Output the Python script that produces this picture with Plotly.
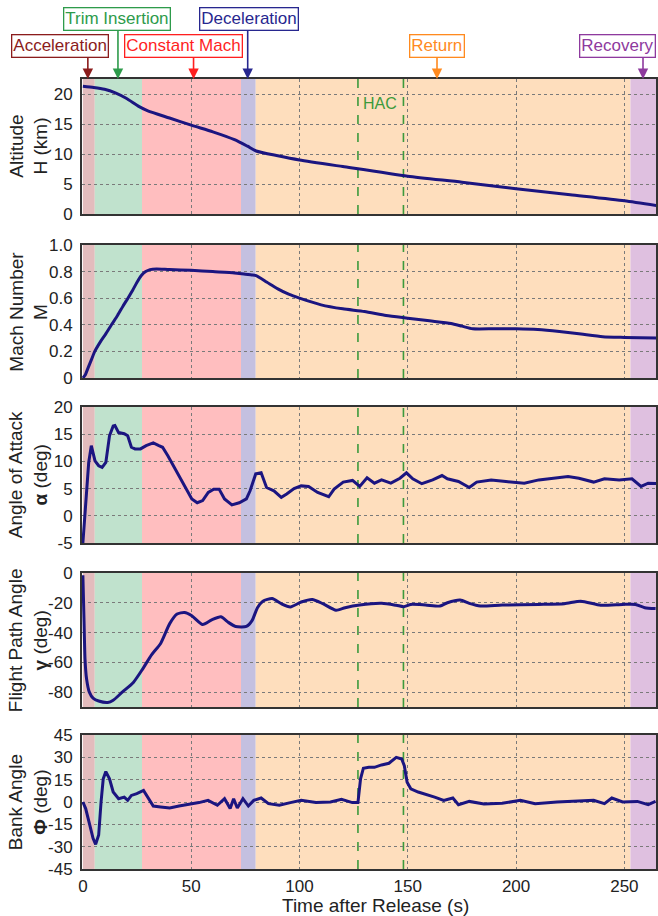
import plotly.graph_objects as go
from plotly.subplots import make_subplots

# ---------------- data ----------------
phase_names = ["Acceleration", "Trim Insertion", "Constant Mach", "Deceleration", "Return", "Recovery"]
phase_start = [0, 5.5, 27.3, 73.0, 79.8, 252.8]
phase_end = [5.5, 27.3, 73.0, 79.8, 252.8, 270]
phase_arrow_t = [2.3, 16.2, 51.1, 76.1, 163.5, 258.6]
hac_t = [127, 148]

t_alt = [0, 5, 10, 15, 20, 26, 30, 40, 50, 60, 70, 76, 80, 90, 100, 120, 150, 175, 200, 225, 250, 265]
altitude = [21.3, 21.1, 20.8, 20.2, 19.3, 17.9, 17.2, 16.0, 14.8, 13.7, 12.4, 11.3, 10.5, 9.7, 9.0, 7.9,
            6.3, 5.3, 4.2, 3.2, 2.2, 1.4]

t_mach = [0, 1, 2.5, 4, 5.5, 8, 10.5, 13.2, 16, 18.5, 20.8, 23, 25, 27, 29, 31, 34, 40, 50, 60, 70, 75,
          78, 80, 85, 90, 95, 100, 110, 120, 130, 140, 150, 160, 170, 175, 180, 190, 200, 210, 220, 230,
          240, 250, 265]
mach = [0, 0.02, 0.08, 0.14, 0.20, 0.27, 0.33, 0.40, 0.47, 0.54, 0.60, 0.66, 0.72, 0.77, 0.80, 0.815,
        0.82, 0.815, 0.81, 0.80, 0.79, 0.78, 0.775, 0.77, 0.72, 0.67, 0.63, 0.60, 0.55, 0.52, 0.50, 0.47,
        0.45, 0.43, 0.41, 0.39, 0.37, 0.37, 0.37, 0.365, 0.35, 0.33, 0.31, 0.305, 0.30]

t_aoa = [0, 1.35, 2.7, 3.9, 4.7, 5.6, 7.3, 8.9, 10.6, 12.3, 14.0, 14.8, 16.5, 19.1, 20.7, 22.4, 24.1, 26.6,
         29.2, 32.5, 35.1, 36.8, 39.3, 41.8, 44.4, 47.7, 50.3, 52.8, 55.3, 57.9, 60.4, 62.9, 65.4, 68.8,
         72.2, 75.5, 77.2, 79.8, 82.3, 84.8, 88.2, 91.6, 94.1, 97.5, 100.8, 104.2, 108.4, 113.5, 116.0,
         120.2, 124.5, 127.8, 131.2, 134.6, 137.9, 142.2, 146.4, 149.4, 152.3, 156.5, 161.5, 165.8, 168.3,
         173.4, 178.4, 181.8, 188.5, 195.3, 203.8, 210.5, 218.9, 224.0, 229.0, 235.8, 240.8, 247.6, 253.5,
         257.7, 261.0, 265.3]
aoa = [-5, 3.1, 9.8, 12.9, 11.3, 10.1, 9.2, 8.9, 9.8, 14.7, 16.5, 16.6, 15.3, 15.1, 14.7, 12.6, 12.3, 12.3,
       12.9, 13.4, 12.9, 12.6, 11.0, 9.2, 7.4, 5.2, 3.1, 2.4, 2.8, 4.3, 4.9, 4.9, 3.1, 2.0,
       2.4, 3.1, 4.6, 7.7, 7.9, 5.2, 4.6, 3.4, 4.0, 5.0, 5.5, 5.4, 4.3, 3.5, 4.9,
       6.2, 6.5, 5.4, 7.0, 6.0, 6.6, 6.0, 6.9, 7.9, 6.8, 5.9, 6.6, 7.4, 6.8,
       6.3, 5.2, 6.2, 6.6, 6.3, 6.0, 6.6, 6.9, 7.2, 6.9, 6.2, 6.8, 6.6, 6.8,
       5.4, 6.0, 5.9]

t_fpa = [0, 0.5, 1.0, 1.7, 3.0, 4.7, 7.3, 11.5, 14.0, 18.2, 23.3, 27.5, 31.7, 35.9, 40.1, 43.5, 46.9, 50.3,
         55.3, 59.5, 63.7, 67.1, 70.5, 75.5, 78.1, 80.6, 83.1, 87.4, 91.6, 95.8, 100.8, 105.9, 110.8, 116.9,
         121.1, 127.8, 138.0, 144.7, 148.1, 151.4, 158.2, 164.9, 168.3, 174.2, 178.4, 183.5, 193.6, 210.5,
         222.3, 229.9, 239.1, 249.2, 255.1, 259.4, 264.4]
fpa = [-1.5, -30, -58, -71, -80, -84, -86, -87, -85.5, -80, -73.5, -64.7, -55, -47.3, -34, -27.6, -26.5, -28.7,
       -34.6, -31.5, -29.4, -33.1, -35.9, -35.9, -32, -23.3, -18.9, -17.1, -20.6, -22.8, -19.5, -17.8, -20.6, -25,
       -23.3, -21.5, -20.4, -21.7, -22.6, -21.1, -21.5, -22.2, -20, -18.2, -20.4, -22.2, -21.5, -21.1,
       -20.6, -18.9, -21.7, -21.1, -21.1, -23.3, -23.9]

t_bank = [0, 1.3, 3.0, 4.7, 5.9, 7.3, 8.4, 9.4, 10.6, 12.3, 14.0, 16.5, 19.1, 20.7, 22.4, 24.9, 28.0, 30.0,
          32.5, 35.9, 40.1, 44.4, 48.6, 53.6, 57.8, 62.1, 65.4, 68.0, 69.6, 71.3, 73.9, 76.4, 78.9, 82.3,
          85.7, 90.7, 95.8, 100.8, 107.6, 114.3, 119.4, 124.4, 127.0, 128.2, 129.5, 132.0, 134.6, 137.9,
          141.3, 144.7, 147.2, 148.4, 149.7, 151.4, 154.8, 159.0, 162.4, 166.6, 170.8, 173.4, 178.4, 185.2,
          193.6, 202.0, 208.8, 218.9, 227.3, 235.8, 240.8, 244.2, 249.2, 256.0, 261.0, 264.4]
bank = [0, -4.4, -14.4, -24.4, -28.4, -22.2, 0, 15.6, 20.4, 15.6, 6.7, 2.2, 3.3, 1.1, 4.4, 5.6, 7.8, 3.3,
        -2.7, -3.3, -4.0, -2.7, -1.8, -0.4, 1.1, -2.2, 2.2, -4.4, 2.2, -4.0, 2.2, -2.7, 1.1, 2.7,
        -1.1, -2.2, -0.4, 1.1, -0.4, 0, 1.8, -0.4, -0.4, 15.6, 22.7, 23.3, 23.3, 24.9,
        26.0, 30.0, 28.9, 24.4, 13.3, 8.9, 6.7, 5.1, 3.3, 1.1, 2.7, -1.8, 0.4, -1.3,
        -0.9, 1.1, -1.1, 0, 0.4, 1.1, -1.1, 2.7, 0, 0.4, -1.8, 0.4]

y_titles = ["Altitude<br>H (km)", "Mach Number<br>M", "Angle of Attack<br><b>α</b> (deg)",
            "Flight Path Angle<br><b>γ</b> (deg)", "Bank Angle<br><b>Φ</b> (deg)"]
y_ranges = [[0, 22.5], [0, 1.0], [-5, 20], [-90, 0], [-45, 45]]
y_tickvals = [[0, 5, 10, 15, 20], [0, 0.2, 0.4, 0.6, 0.8, 1.0], [-5, 0, 5, 10, 15, 20],
              [-80, -60, -40, -20, 0], [-45, -30, -15, 0, 15, 30, 45]]
y_ticktext = [["0", "5", "10", "15", "20"], ["0", "0.2", "0.4", "0.6", "0.8", "1.0"],
              ["-5", "0", "5", "10", "15", "20"], ["-80", "-60", "-40", "-20", "0"],
              ["-45", "-30", "-15", "0", "15", "30", "45"]]
x_tickvals = [0, 50, 100, 150, 200, 250]

# ---------------- style / layout ----------------
W, H = 658, 916
ML, MR, MT, MB = 82, 0, 79, 47
PW, PH = W - ML - MR, H - MT - MB
FONT = "Liberation Sans, Arial, sans-serif"
TXT = "#222222"
LINE = "#1b1580"
phase_fill = ["#E3BCBD", "#C0E2CD", "#FFBEBF", "#C4C0E0", "#FEDEBD", "#DFC0E0"]
phase_color = ["#8B1C1C", "#2E9B4B", "#FF1F1F", "#27278F", "#FF8A1F", "#8E3A9E"]
label_cx_px = [60, 117, 184, 250, 438, 619]
label_cy_px = [46, 19, 46, 19, 46, 46]
arrow_len = [23, 51, 23, 51, 23, 23]
panel_px = [(79, 214), (245, 378), (407, 543), (573, 707), (735, 869)]


def py(px):
    return (H - MB - px) / PH


def pxx(px):
    return (px - ML) / PW


fig = make_subplots(rows=5, cols=1, shared_xaxes=True)

series = [(t_alt, altitude, "spline"), (t_mach, mach, "spline"), (t_aoa, aoa, "linear"),
          (t_fpa, fpa, "spline"), (t_bank, bank, "linear")]
for i, (tx, vy, shp) in enumerate(series):
    fig.add_trace(go.Scatter(x=tx, y=vy, mode="lines",
                             line=dict(color=LINE, width=3, shape=shp, smoothing=0.6 if shp == "spline" else None),
                             showlegend=False, hoverinfo="skip"), row=i + 1, col=1)

for i in range(5):
    r = i + 1
    xr = "x" if r == 1 else f"x{r}"
    yr = "y" if r == 1 else f"y{r}"
    for k in range(6):
        fig.add_shape(type="rect", xref=xr, yref=f"{yr} domain", x0=phase_start[k], x1=phase_end[k],
                      y0=0, y1=1, fillcolor=phase_fill[k], line=dict(width=0), layer="below")
    for ht in hac_t:
        fig.add_shape(type="line", xref=xr, yref=f"{yr} domain", x0=ht, x1=ht, y0=0, y1=1,
                      line=dict(color="#3C9A3C", width=1.6, dash="dash"), layer="below")
    top, bot = panel_px[i]
    dom = [py(bot), py(top)]
    fig.update_yaxes(row=r, col=1, domain=dom, range=y_ranges[i], tickvals=y_tickvals[i],
                     ticktext=y_ticktext[i], showgrid=True, gridcolor="#7a7a7a", griddash="dot",
                     gridwidth=1, showline=True, mirror=True, linecolor="#333333", linewidth=2,
                     ticks="", ticklabelstandoff=4, zeroline=False,
                     tickfont=dict(family=FONT, size=17, color=TXT))
    fig.update_xaxes(row=r, col=1, range=[-0.4, 264.6], tickvals=x_tickvals, showgrid=True,
                     gridcolor="#7a7a7a", griddash="dot", gridwidth=1, showline=True, mirror=True,
                     linecolor="#333333", linewidth=2, ticks="", zeroline=False,
                     showticklabels=(r == 5), ticklabelstandoff=1,
                     tickfont=dict(family=FONT, size=17, color=TXT))
    fig.add_annotation(xref="paper", yref="paper", x=pxx(28), y=(dom[0] + dom[1]) / 2,
                       text=y_titles[i], textangle=-90, showarrow=False, xanchor="center",
                       yanchor="middle", font=dict(family=FONT, size=19, color=TXT))

# x axis title
fig.add_annotation(xref="paper", yref="paper", x=pxx(377), y=py(905), text="Time after Release (s)",
                   showarrow=False, xanchor="center", yanchor="middle",
                   font=dict(family=FONT, size=19, color=TXT))

# HAC label
fig.add_annotation(xref="x", yref="y", x=137.2, y=18.5, text="HAC", showarrow=False,
                   font=dict(family=FONT, size=16, color="#3C9A3C"))

# phase labels with arrows
for k in range(6):
    fig.add_annotation(xref="x", yref="paper", x=phase_arrow_t[k], y=1.0, text="", showarrow=True,
                       ax=0, ay=-arrow_len[k], arrowhead=2, arrowsize=1.3, arrowwidth=1.6,
                       arrowcolor=phase_color[k], standoff=0)
    fig.add_annotation(xref="paper", yref="paper", x=pxx(label_cx_px[k]), y=py(label_cy_px[k]),
                       text=phase_names[k], showarrow=False, xanchor="center", yanchor="middle",
                       bgcolor="white", bordercolor=phase_color[k], borderwidth=1.3, borderpad=1,
                       font=dict(family=FONT, size=17, color=phase_color[k]))

fig.update_layout(width=W, height=H, margin=dict(l=ML, r=MR, t=MT, b=MB),
                  paper_bgcolor="white", plot_bgcolor="white", showlegend=False,
                  font=dict(family=FONT, color=TXT))

fig.write_html("out.html")
